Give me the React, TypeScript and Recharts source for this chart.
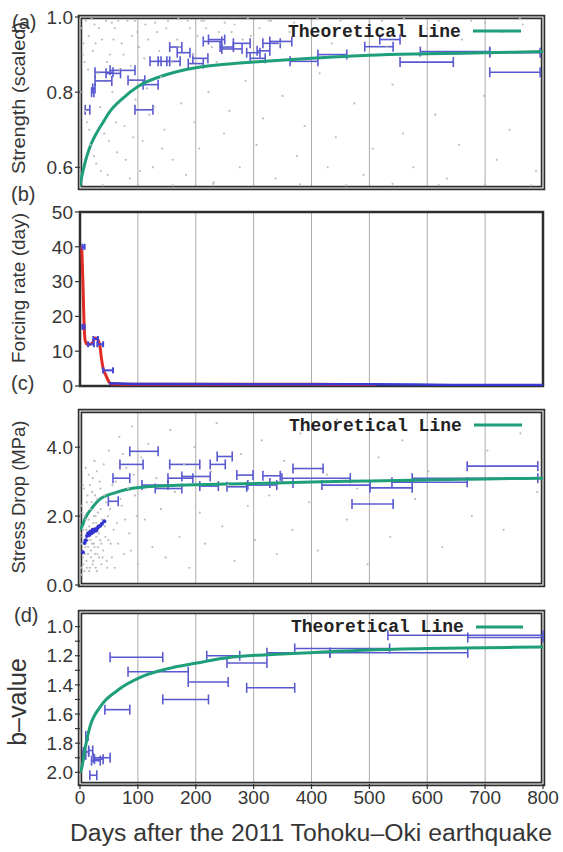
import React from 'react';
import {
  ComposedChart, Line, Scatter, XAxis, YAxis, CartesianGrid, ErrorBar, ReferenceArea,
} from 'recharts';

// ---------- shared ----------
const dayTicks = [0, 100, 200, 300, 400, 500, 600, 700, 800];

// ---------- (a) strength ----------
const strengthCurveDays = [0, 3, 6, 10, 15, 20, 30, 40, 50, 75, 100, 150, 200, 250, 300, 400, 500, 600, 700, 800];
const strengthCurveVals = [0.55, 0.575, 0.595, 0.62, 0.645, 0.665, 0.695, 0.72, 0.745, 0.785, 0.815, 0.847, 0.865, 0.874, 0.88, 0.89, 0.898, 0.902, 0.905, 0.908];
// [start day, end day, value]
const strengthBars: number[][] = [
  [9, 17, 0.753], [20, 24, 0.8], [22, 26, 0.81], [26, 55, 0.83], [26, 57, 0.853], [45, 70, 0.85],
  [52, 95, 0.858], [83, 112, 0.832], [109, 135, 0.82], [95, 126, 0.753], [155, 176, 0.92],
  [121, 140, 0.882], [135, 155, 0.882], [150, 173, 0.882], [168, 190, 0.905], [187, 213, 0.876],
  [195, 221, 0.89], [213, 245, 0.935], [222, 250, 0.94], [242, 265, 0.92], [265, 294, 0.93],
  [245, 280, 0.915], [288, 311, 0.905], [294, 320, 0.89], [306, 328, 0.91], [316, 346, 0.93],
  [328, 366, 0.935], [363, 411, 0.882], [411, 461, 0.9], [492, 541, 0.921], [518, 553, 0.94],
  [553, 645, 0.88], [588, 708, 0.908], [708, 795, 0.853], [708, 795, 0.905],
];
const strengthDots: number[][] = [
  [3, 0.97], [6, 0.93], [8, 0.88], [10, 0.99], [12, 0.72], [15, 0.95], [18, 0.66], [22, 0.91], [25, 0.98],
  [28, 0.61], [31, 0.85], [35, 0.76], [38, 0.94], [42, 0.69], [45, 0.99], [48, 0.58], [52, 0.9], [56, 0.8],
  [60, 0.97], [64, 0.64], [68, 0.86], [72, 0.93], [77, 0.71], [82, 0.99], [86, 0.57], [90, 0.95], [96, 0.78],
  [102, 0.92], [108, 0.67], [113, 0.98], [120, 0.74], [126, 0.6], [133, 0.96], [140, 0.84], [146, 0.7],
  [152, 0.99], [160, 0.62], [168, 0.94], [175, 0.77], [183, 0.58], [190, 0.97], [198, 0.72], [206, 0.65],
  [214, 0.99], [222, 0.8], [231, 0.56], [240, 0.96], [249, 0.69], [258, 0.75], [267, 0.98], [276, 0.6],
  [286, 0.83], [295, 0.95], [305, 0.66], [316, 0.73], [326, 0.99], [338, 0.57], [350, 0.79], [362, 0.96],
  [375, 0.63], [388, 0.71], [400, 0.99], [414, 0.85], [428, 0.6], [442, 0.68], [458, 0.97], [474, 0.77],
  [490, 0.58], [506, 0.65], [522, 0.99], [540, 0.82], [558, 0.69], [576, 0.6], [595, 0.95], [614, 0.74],
  [634, 0.57], [655, 0.66], [676, 0.99], [698, 0.79], [720, 0.62], [742, 0.7], [765, 0.98], [788, 0.59],
  [20, 0.995], [55, 0.985], [95, 0.99], [130, 0.985], [170, 0.995], [210, 0.99], [250, 0.985], [290, 0.995],
  [330, 0.99], [370, 0.985], [410, 0.995], [450, 0.99], [500, 0.985], [560, 0.995], [620, 0.99], [700, 0.985],
  [760, 0.995], [40, 0.552], [100, 0.555], [160, 0.552], [230, 0.556], [300, 0.553], [380, 0.555],
  [460, 0.552], [540, 0.556], [620, 0.553], [700, 0.555], [780, 0.552],
  [5, 0.9], [14, 0.86], [27, 0.93], [33, 0.97], [47, 0.88], [58, 0.94], [66, 0.99], [75, 0.9], [88, 0.87],
  [99, 0.96], [111, 0.89], [118, 0.94], [137, 0.91], [149, 0.97], [158, 0.88], [172, 0.92], [186, 0.99],
  [195, 0.9], [203, 0.95], [218, 0.97], [228, 0.92], [236, 0.88], [262, 0.96], [281, 0.94], [310, 0.97],
  [345, 0.93], [395, 0.95], [435, 0.93], [480, 0.96], [530, 0.92], [600, 0.97], [660, 0.94], [730, 0.96],
  [4, 0.8], [9, 0.75], [16, 0.7], [24, 0.63], [36, 0.59], [50, 0.67], [62, 0.72], [79, 0.62], [92, 0.68],
  [104, 0.59], [116, 0.81], [128, 0.76], [142, 0.65],
];

// ---------- (b) forcing rate ----------
const forcingRedDays = [3, 5, 7, 9, 12, 17, 22, 26, 30, 34, 37, 40, 45, 50, 55, 100, 200, 300, 400, 510];
const forcingRedVals = [40, 30, 18, 13, 12, 12, 12.5, 13.8, 13.5, 12, 8, 5, 3, 1.2, 0.6, 0.5, 0.5, 0.5, 0.5, 0.4];
const forcingBlueDays = [50, 100, 300, 500, 650, 800];
const forcingBlueVals = [0.8, 0.6, 0.5, 0.5, 0.3, 0.3];
const forcingBars: number[][] = [
  [4, 8, 40], [4, 8, 17], [14, 24, 12], [23, 31, 13.5], [30, 40, 12], [40, 57, 4.5],
];

// ---------- (c) stress drop ----------
const stressCurveDays = [0, 3, 8, 12, 20, 35, 50, 63, 80, 109, 150, 200, 250, 340, 400, 500, 600, 700, 800];
const stressCurveVals = [1.62, 1.68, 1.9, 2.03, 2.22, 2.5, 2.62, 2.69, 2.77, 2.84, 2.88, 2.91, 2.93, 2.96, 2.99, 3.02, 3.05, 3.08, 3.1];
const stressBars: number[][] = [
  [49, 66, 2.43], [57, 86, 3.1], [69, 109, 3.5], [86, 135, 3.88], [107, 152, 2.9], [130, 176, 2.8],
  [152, 195, 3.1], [155, 207, 3.5], [176, 225, 3.15], [207, 239, 2.87], [225, 251, 3.5], [237, 263, 3.73],
  [254, 288, 2.85], [271, 299, 3.19], [290, 340, 2.9], [316, 346, 3.17], [328, 368, 2.96], [349, 467, 3.1],
  [368, 420, 3.38], [418, 501, 2.9], [470, 541, 2.35], [501, 574, 2.82], [539, 669, 2.98], [669, 791, 3.45],
  [574, 791, 3.1],
];
const stressBlueDots: number[][] = [
  [5, 0.95], [8, 1.22], [10, 1.3], [12, 1.42], [14, 1.5], [16, 1.45], [18, 1.55], [20, 1.5], [22, 1.6],
  [24, 1.55], [26, 1.62], [28, 1.58], [30, 1.65], [32, 1.7], [35, 1.72], [38, 1.78], [42, 1.85],
];
const stressDots: number[][] = [
  [2, 0.5], [3, 1.2], [4, 2.1], [5, 0.8], [6, 1.6], [7, 2.8], [8, 0.4], [9, 1.1], [10, 1.9], [11, 0.7],
  [12, 2.4], [13, 1.3], [14, 0.9], [15, 3.2], [16, 1.7], [17, 0.5], [18, 2.2], [19, 1.0], [20, 1.5],
  [21, 2.7], [22, 0.6], [23, 1.8], [24, 1.2], [25, 3.6], [26, 0.9], [27, 2.0], [28, 1.4], [29, 0.4],
  [30, 2.5], [31, 1.1], [32, 1.7], [33, 0.8], [34, 3.0], [35, 1.3], [36, 2.2], [37, 0.6], [38, 1.9],
  [40, 1.0], [42, 2.6], [44, 1.4], [46, 0.7], [48, 2.0], [50, 3.9], [53, 1.2], [56, 2.9], [60, 0.5],
  [64, 1.8], [68, 4.3], [72, 2.3], [76, 0.9], [80, 3.4], [85, 1.5], [90, 4.6], [95, 2.6], [100, 0.6],
  [106, 3.7], [112, 1.9], [118, 4.1], [125, 1.1], [132, 3.1], [140, 2.2], [148, 0.8], [156, 4.5],
  [164, 2.7], [172, 1.4], [180, 3.5], [189, 0.5], [198, 4.0], [207, 2.1], [216, 1.2], [226, 3.3],
  [236, 4.7], [246, 1.7], [256, 2.9], [267, 0.7], [278, 3.8], [290, 2.3], [302, 1.3], [314, 4.2],
  [327, 2.6], [340, 0.9], [353, 3.6], [367, 1.6], [381, 4.4], [396, 2.4], [411, 1.0], [427, 3.2],
  [444, 4.8], [461, 1.9], [479, 2.8], [497, 0.6], [516, 3.7], [536, 1.4], [557, 4.2], [579, 2.5],
  [602, 3.3], [626, 1.1], [651, 4.6], [677, 2.0], [704, 3.9], [732, 1.6], [761, 4.4], [790, 2.7],
  [1, 1.5], [2, 2.3], [3, 0.3], [4, 1.4], [5, 2.9], [6, 0.6], [7, 1.3], [8, 2.0], [9, 0.9], [10, 3.4],
  [11, 1.6], [12, 0.5], [13, 2.6], [14, 1.1], [15, 1.9], [16, 0.4], [17, 2.9], [18, 1.3], [19, 0.8],
  [20, 2.4], [21, 1.2], [22, 3.1], [23, 0.7], [24, 2.0], [25, 1.1], [26, 2.6], [27, 0.5], [28, 1.8],
  [29, 3.3], [30, 0.9], [31, 2.1], [33, 1.5], [35, 2.8], [37, 1.2], [39, 0.8], [41, 3.5], [43, 1.7],
  [45, 2.4], [47, 0.5], [49, 1.3], [52, 2.2], [55, 0.8], [58, 1.6], [62, 3.0], [66, 1.2], [70, 2.5],
  [74, 3.8], [78, 1.9], [83, 2.8], [88, 1.0], [93, 3.2], [98, 2.0],
];

// ---------- (d) b-value ----------
const bCurveDays = [0, 3, 9, 17, 35, 64, 109, 150, 202, 260, 340, 420, 501, 600, 700, 800];
const bCurveVals = [2.0, 1.97, 1.83, 1.69, 1.55, 1.44, 1.34, 1.29, 1.25, 1.21, 1.19, 1.175, 1.16, 1.15, 1.145, 1.14];
const bBars: number[][] = [
  [52, 143, 1.21], [83, 187, 1.31], [187, 256, 1.38], [143, 222, 1.5], [43, 86, 1.57], [219, 276, 1.2],
  [254, 323, 1.25], [288, 371, 1.42], [371, 535, 1.15], [323, 432, 1.18], [432, 670, 1.18],
  [532, 800, 1.06], [670, 800, 1.075],
  [10, 14, 1.75], [6, 15, 1.86], [15, 22, 1.85], [23, 52, 1.9], [20, 35, 1.92], [17, 29, 2.02],
  [5, 10, 1.88], [25, 40, 1.91],
];

// ---------- helpers ----------
const pts = (days: number[], vals: number[]) => days.map((d, i) => ({ x: d, y: vals[i] }));
const pairs = (list: number[][]) => list.map(([d, v]) => ({ x: d, y: v }));
const bars = (list: number[][]) => list.map(([lo, hi, v]) => ({ x: (lo + hi) / 2, y: v, err: (hi - lo) / 2 }));

const GREEN = '#1f9e7a';
const BAR = '#5a5ad0';
const FONT = '"Liberation Sans", Arial, Helvetica, sans-serif';
const tickStyle = { fontSize: 19, fill: '#363636', fontFamily: FONT };
const empty = () => '';

const noShape = () => <g />;
const grayDot = (p: any) => <circle cx={p.cx} cy={p.cy} r={1.1} fill="#bdbdbd" />;
const blueDot = (p: any) => <circle cx={p.cx} cy={p.cy} r={2} fill="#3434d0" />;

function frameAxes(o: {
  domain: [number, number];
  ticks: number[];
  fmt: (v: number) => string;
  rightTicks: number[];
  reversed?: boolean;
  xLabels?: boolean;
}) {
  return [
    <CartesianGrid key="grid" horizontal={false} stroke="#ababab" strokeWidth={1} />,
    <XAxis
      key="xb" dataKey="x" type="number" domain={[0, 800]} ticks={dayTicks} allowDataOverflow interval={0}
      axisLine={false} tickSize={5} tickLine={{ stroke: '#333', strokeWidth: 1.2 }}
      height={o.xLabels ? 30 : 0} tick={tickStyle} tickFormatter={o.xLabels ? (v: number) => String(v) : empty}
    />,
    <XAxis
      key="xt" xAxisId="t" orientation="top" dataKey="x" type="number" domain={[0, 800]} ticks={dayTicks}
      allowDataOverflow interval={0} axisLine={false} tickSize={5} tickLine={{ stroke: '#333', strokeWidth: 1.2 }}
      height={0} tick={tickStyle} tickFormatter={empty}
    />,
    <YAxis
      key="yl" dataKey="y" type="number" domain={o.domain} ticks={o.ticks} reversed={o.reversed}
      allowDataOverflow interval={0} axisLine={false} tickSize={5} tickLine={{ stroke: '#333', strokeWidth: 1.2 }}
      width={60} tick={tickStyle} tickFormatter={o.fmt}
    />,
    <YAxis
      key="yr" yAxisId="r" orientation="right" type="number" domain={o.domain} ticks={o.rightTicks}
      reversed={o.reversed} allowDataOverflow interval={0} axisLine={false} tickSize={5}
      tickLine={{ stroke: '#333', strokeWidth: 1.2 }} width={0} tick={tickStyle} tickFormatter={empty}
    />,
  ];
}

function frame(domain: [number, number], double: boolean) {
  const els = [
    <ReferenceArea key="f1" x1={0} x2={800} y1={domain[0]} y2={domain[1]} fill="none" fillOpacity={0}
      stroke="#2e2e2e" strokeWidth={double ? 4.5 : 2.5} ifOverflow="visible" />,
  ];
  if (double) {
    els.push(
      <ReferenceArea key="f2" x1={0} x2={800} y1={domain[0]} y2={domain[1]} fill="none" fillOpacity={0}
        stroke="#ffffff" strokeWidth={1.1} ifOverflow="visible" />,
    );
  }
  return els;
}

const chartStyle = (top: number): React.CSSProperties => ({ position: 'absolute', left: 0, top });

export default function App() {
  const aDomain: [number, number] = [0.545, 1.0];
  const bDomain: [number, number] = [0, 50];
  const cDomain: [number, number] = [0, 5.05];
  const dDomain: [number, number] = [0.9, 2.08];

  return (
    <div style={{ position: 'absolute', left: 0, top: 0, width: 563, height: 852, background: '#fff', overflow: 'hidden' }}>
      {/* (a) */}
      <div style={chartStyle(0)}>
        <ComposedChart width={563} height={200} margin={{ top: 17, right: 20, bottom: 12, left: 20 }}>
          {frameAxes({ domain: aDomain, ticks: [0.6, 0.8, 1.0], fmt: (v) => v.toFixed(1), rightTicks: [0.6, 0.8] })}
          <Scatter data={pairs(strengthDots)} dataKey="y" shape={grayDot} isAnimationActive={false} />
          <Scatter data={bars(strengthBars)} dataKey="y" shape={noShape} isAnimationActive={false}>
            <ErrorBar dataKey="err" direction="x" width={5} stroke={BAR} strokeWidth={1.6} />
          </Scatter>
          <Line data={pts(strengthCurveDays, strengthCurveVals)} dataKey="y" type="monotone" stroke={GREEN}
            strokeWidth={3} dot={false} isAnimationActive={false} />
          {frame(aDomain, true)}
        </ComposedChart>
      </div>

      {/* (b) */}
      <div style={chartStyle(200)}>
        <ComposedChart width={563} height={200} margin={{ top: 12, right: 20, bottom: 14, left: 20 }}>
          {frameAxes({ domain: bDomain, ticks: [0, 10, 20, 30, 40, 50], fmt: (v) => String(v), rightTicks: [] })}
          <Line data={pts(forcingRedDays, forcingRedVals)} dataKey="y" type="monotone" stroke="#e12b25"
            strokeWidth={3} dot={false} isAnimationActive={false} />
          <Line data={pts(forcingBlueDays, forcingBlueVals)} dataKey="y" type="monotone" stroke="#3a3ad0"
            strokeWidth={2.5} dot={false} isAnimationActive={false} />
          <Scatter data={bars(forcingBars)} dataKey="y" shape={noShape} isAnimationActive={false}>
            <ErrorBar dataKey="err" direction="x" width={3} stroke="#4545d8" strokeWidth={2} />
          </Scatter>
          {frame(bDomain, false)}
        </ComposedChart>
      </div>

      {/* (c) */}
      <div style={chartStyle(400)}>
        <ComposedChart width={563} height={200} margin={{ top: 11, right: 20, bottom: 15, left: 20 }}>
          {frameAxes({ domain: cDomain, ticks: [0, 2, 4], fmt: (v) => v.toFixed(1), rightTicks: [2, 4] })}
          <Scatter data={pairs(stressDots)} dataKey="y" shape={grayDot} isAnimationActive={false} />
          <Scatter data={pairs(stressBlueDots)} dataKey="y" shape={blueDot} isAnimationActive={false} />
          <Scatter data={bars(stressBars)} dataKey="y" shape={noShape} isAnimationActive={false}>
            <ErrorBar dataKey="err" direction="x" width={5} stroke={BAR} strokeWidth={1.6} />
          </Scatter>
          <Line data={pts(stressCurveDays, stressCurveVals)} dataKey="y" type="monotone" stroke={GREEN}
            strokeWidth={3} dot={false} isAnimationActive={false} />
          {frame(cDomain, true)}
        </ComposedChart>
      </div>

      {/* (d) */}
      <div style={chartStyle(600)}>
        <ComposedChart width={563} height={252} margin={{ top: 12, right: 20, bottom: 38, left: 20 }}>
          {frameAxes({
            domain: dDomain,
            ticks: [1.0, 1.1, 1.2, 1.3, 1.4, 1.5, 1.6, 1.7, 1.8, 1.9, 2.0],
            fmt: (v) => (Math.round(v * 10) % 2 === 0 ? v.toFixed(1) : ''),
            rightTicks: [1.0, 1.1, 1.2, 1.3, 1.4, 1.5, 1.6, 1.7, 1.8, 1.9, 2.0],
            reversed: true,
            xLabels: true,
          })}
          <Scatter data={bars(bBars)} dataKey="y" shape={noShape} isAnimationActive={false}>
            <ErrorBar dataKey="err" direction="x" width={5} stroke={BAR} strokeWidth={1.6} />
          </Scatter>
          <Line data={pts(bCurveDays, bCurveVals)} dataKey="y" type="monotone" stroke={GREEN}
            strokeWidth={3} dot={false} isAnimationActive={false} />
          {frame(dDomain, true)}
        </ComposedChart>
      </div>

      {/* labels, legends */}
      <svg width={563} height={852} style={{ position: 'absolute', left: 0, top: 0, pointerEvents: 'none' }}>
        <g fontFamily={FONT} fill="#363636">
          <text x={12} y={29} fontSize={20}>(a)</text>
          <text x={11} y={201} fontSize={20}>(b)</text>
          <text x={11} y={390} fontSize={20}>(c)</text>
          <text x={14} y={622} fontSize={20}>(d)</text>
          <text transform="translate(25,98) rotate(-90)" textAnchor="middle" fontSize={19} textLength={152} lengthAdjust="spacingAndGlyphs">Strength (scaled)</text>
          <text transform="translate(25,288) rotate(-90)" textAnchor="middle" fontSize={19} textLength={150} lengthAdjust="spacingAndGlyphs">Forcing rate (day)</text>
          <text transform="translate(25,497) rotate(-90)" textAnchor="middle" fontSize={19} textLength={153} lengthAdjust="spacingAndGlyphs">Stress Drop (MPa)</text>
          <text transform="translate(26,702) rotate(-90)" textAnchor="middle" fontSize={25}>b–value</text>
          <text x={311} y={841} textAnchor="middle" fontSize={23} textLength={482} lengthAdjust="spacingAndGlyphs">Days after the 2011 Tohoku–Oki earthquake</text>
        </g>
        <g fontFamily='"Liberation Mono", "Courier New", monospace' fill="#222" fontSize={18} fontWeight="bold">
          <text x={288} y={37}>Theoretical Line</text>
          <text x={289} y={431}>Theoretical Line</text>
          <text x={291} y={632}>Theoretical Line</text>
        </g>
        <g stroke={GREEN} strokeWidth={3}>
          <line x1={473} x2={521} y1={31} y2={31} />
          <line x1={474} x2={522} y1={425} y2={425} />
          <line x1={476} x2={523} y1={627} y2={627} />
        </g>
      </svg>
    </div>
  );
}
